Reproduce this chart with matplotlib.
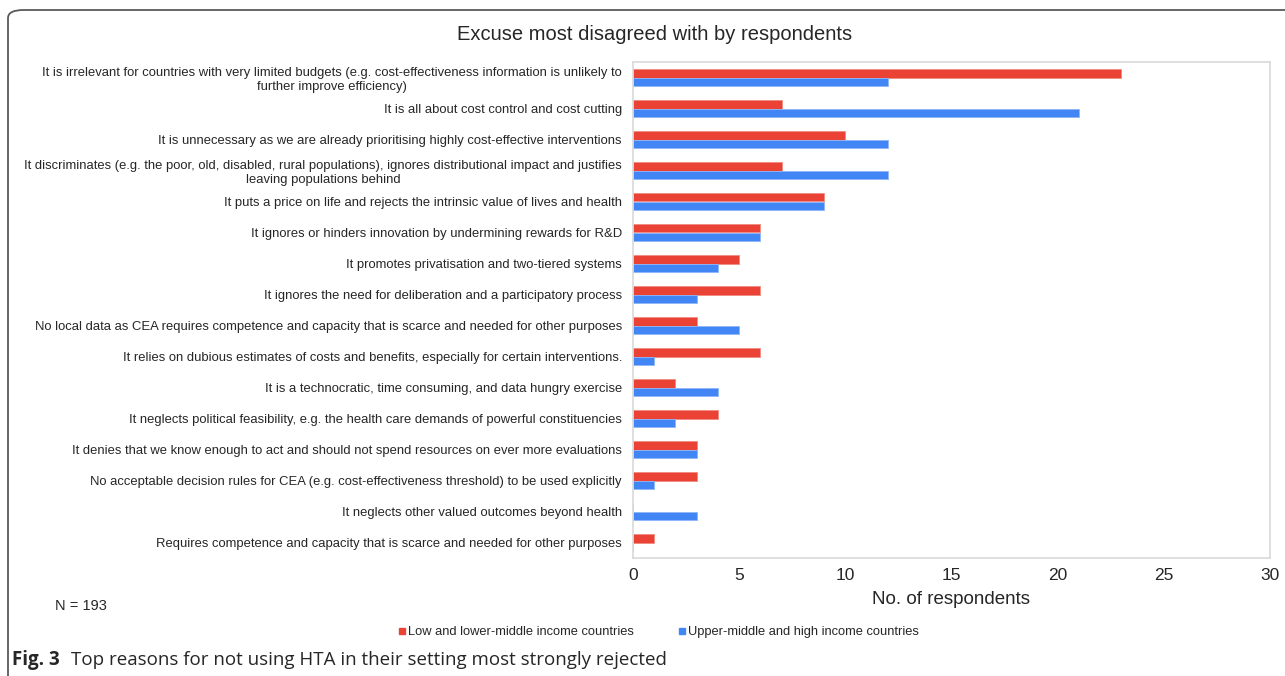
import numpy as np
import matplotlib
matplotlib.use("Agg")
import matplotlib.pyplot as plt
from matplotlib.patches import FancyBboxPatch
from matplotlib.lines import Line2D

# Data (top to bottom as shown)
excuses = [
    'It is irrelevant for countries with very limited budgets (e.g. cost-effectiveness information is unlikely to\nfurther improve efficiency)',
    'It is all about cost control and cost cutting',
    'It is unnecessary as we are already prioritising highly cost-effective interventions',
    'It discriminates (e.g. the poor, old, disabled, rural populations), ignores distributional impact and justifies\nleaving populations behind',
    'It puts a price on life and rejects the intrinsic value of lives and health',
    'It ignores or hinders innovation by undermining rewards for R&D',
    'It promotes privatisation and two-tiered systems',
    'It ignores the need for deliberation and a participatory process',
    'No local data as CEA requires competence and capacity that is scarce and needed for other purposes',
    'It relies on dubious estimates of costs and benefits, especially for certain interventions.',
    'It is a technocratic, time consuming, and data hungry exercise',
    'It neglects political feasibility, e.g. the health care demands of powerful constituencies',
    'It denies that we know enough to act and should not spend resources on ever more evaluations',
    'No acceptable decision rules for CEA (e.g. cost-effectiveness threshold) to be used explicitly',
    'It neglects other valued outcomes beyond health',
    'Requires competence and capacity that is scarce and needed for other purposes',
]
low_income = [23, 7, 10, 7, 9, 6, 5, 6, 3, 6, 2, 4, 3, 3, 0, 1]
high_income = [12, 21, 12, 12, 9, 6, 4, 3, 5, 1, 4, 2, 3, 1, 3, 0]
series_names = ['Low and lower-middle income countries',
                'Upper-middle and high income countries']
x_ticks = [0, 5, 10, 15, 20, 25, 30]

red = '#ea4335'
blue = '#4285f4'
txt = '#262626'
plt.rcParams['font.family'] = ['Liberation Sans', 'DejaVu Sans']

fig = plt.figure(figsize=(12.85, 6.76), dpi=100)
W, H = 1285, 676

# outer rounded frame of the figure panel
frame = FancyBboxPatch((8 / W, 1 - 690 / H), 1300 / W, 680 / H,
                       boxstyle='round,pad=0,rounding_size=0.012',
                       transform=fig.transFigure, fill=False,
                       edgecolor='#5a5a5a', linewidth=1.3, clip_on=False)
fig.patches.append(frame)

ax = fig.add_axes([633 / W, 1 - 558 / H, (1270 - 633) / W, (558 - 62) / H])

n = len(excuses)
y = np.arange(n)
h = 0.27
ax.barh(y - h / 2, low_income, height=h, color=red, edgecolor='#f08a80',
        linewidth=0.6, label=series_names[0])
ax.barh(y + h / 2, high_income, height=h, color=blue, edgecolor='#8fb6f9',
        linewidth=0.6, label=series_names[1])

ax.set_ylim(n - 0.5, -0.5)
ax.set_xlim(0, 30)
ax.set_xticks(x_ticks)
ax.set_yticks(y)
ax.set_yticklabels(excuses, fontsize=9.4, color=txt,
                   multialignment='center')
ax.tick_params(axis='y', length=0, pad=8)
ax.tick_params(axis='x', length=0, pad=7, labelsize=12.5, labelcolor=txt)
for s in ax.spines.values():
    s.set_color('#d9d9d9')
    s.set_linewidth(1.2)
ax.set_xlabel('No. of respondents', fontsize=13.5, color=txt, labelpad=6)

fig.text(655 / W, 1 - 34 / H, 'Excuse most disagreed with by respondents',
         ha='center', va='center', fontsize=14.5, color=txt)
fig.text(55 / W, 1 - 606 / H, 'N = 193', ha='left', va='center',
         fontsize=10.5, color=txt)

handles = [Line2D([0], [0], marker='s', linestyle='none', markersize=5,
                  markerfacecolor=red, markeredgecolor=red),
           Line2D([0], [0], marker='s', linestyle='none', markersize=5,
                  markerfacecolor=blue, markeredgecolor=blue)]
fig.legend(handles, series_names, ncol=2, loc='center',
           bbox_to_anchor=(658 / W, 1 - 632 / H), frameon=False,
           fontsize=9.3, handletextpad=0.1, columnspacing=3.3,
           handlelength=0.8, labelcolor=txt)

fig.text(12 / W, 1 - 660 / H, 'Fig. 3', ha='left', va='center',
         fontsize=13.5, fontweight='bold', family='Open Sans', color=txt)
fig.text(71 / W, 1 - 660 / H,
         'Top reasons for not using HTA in their setting most strongly rejected',
         ha='left', va='center', fontsize=13.5, family='Open Sans',
         color=txt)

plt.savefig('out.png', dpi=100)
